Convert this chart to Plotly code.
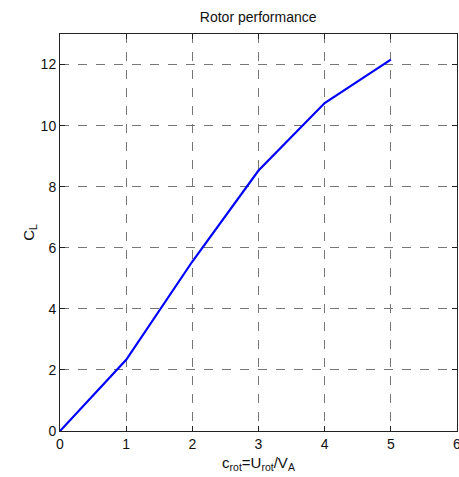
import plotly.graph_objects as go

c_rot = [0, 1, 2, 3, 4, 5]
C_L = [0, 2.33, 5.55, 8.53, 10.74, 12.16]
x_ticks = [0, 1, 2, 3, 4, 5, 6]
y_ticks = [0, 2, 4, 6, 8, 10, 12]

FONT = "Liberation Sans, Arial"

fig = go.Figure()
fig.add_trace(go.Scatter(x=c_rot, y=C_L, mode="lines",
                         line=dict(color="#0000ff", width=2.2), showlegend=False))

axis_common = dict(
    showline=True, linecolor="#222", linewidth=1, mirror="ticks",
    ticks="inside", ticklen=5, tickcolor="#222",
    showgrid=True, gridcolor="#777", griddash="dash", gridwidth=1,
    zeroline=False, automargin=False, ticklabeloverflow="allow",
    tickfont=dict(family=FONT, size=14, color="#111"),
)
fig.update_xaxes(range=[0, 6], tickvals=x_ticks, ticktext=[str(t) for t in x_ticks],
                 title=dict(text="c<sub>rot</sub>=U<sub>rot</sub>/V<sub>A</sub>",
                            font=dict(family=FONT, size=15, color="#111"),
                            standoff=6),
                 **axis_common)
fig.update_yaxes(range=[0, 13], tickvals=y_ticks, ticktext=[str(t) for t in y_ticks],
                 title=dict(text="C<sub>L</sub>",
                            font=dict(family=FONT, size=15, color="#111"),
                            standoff=2),
                 **axis_common)
fig.update_layout(
    width=459, height=477,
    margin=dict(l=60, r=2, t=34, b=46),
    paper_bgcolor="white", plot_bgcolor="white",
    title=dict(text="Rotor performance", x=0.5625, xanchor="center", y=0.965, yanchor="middle",
               font=dict(family=FONT, size=14, color="#111")),
)
fig.write_html("out.html", config={"displayModeBar": False},
               post_script="document.body.style.margin='0';document.body.style.overflow='hidden';")
